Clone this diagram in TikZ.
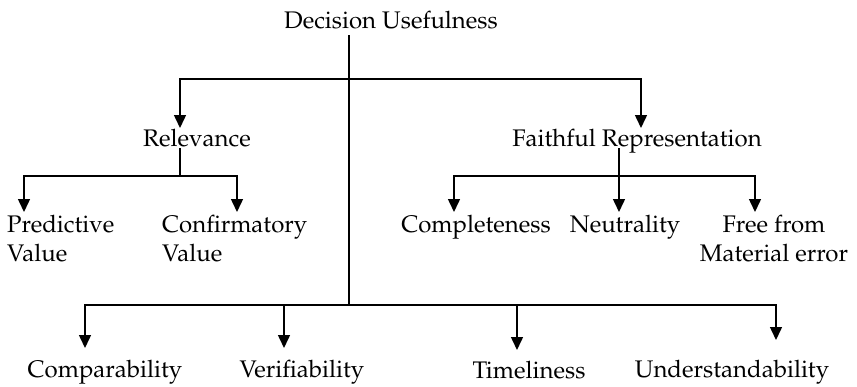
\documentclass[tikz,border=0pt]{standalone}
\usepackage[T1]{fontenc}
\usepackage{mathpazo}
\usetikzlibrary{arrows.meta}

\begin{document}
\begin{tikzpicture}[x=1pt,y=-1pt,
    lbl/.style={font=\fontsize{24}{29}\selectfont, inner sep=0pt, anchor=base},
    ln/.style={line width=1.5pt},
    arr/.style={line width=1.5pt, -{Triangle[width=12pt,length=13pt]}}]

    \useasboundingbox (0,0) rectangle (857,386);

    % top level
    \node[lbl] (du) at (391,28) {Decision Usefulness};

    \coordinate (topfork) at (349,79);
    \coordinate (botfork) at (349,305);

    \draw[ln] ([xshift=-42pt,yshift=-7pt]du.base) -- (botfork);


    % relevance (base = last line)
    \node[lbl] (rel) at (197,146) {Relevance};

    \node[lbl, anchor=base west, align=left] (pv) at (7,261) {Predictive\\Value};

    \node[lbl, anchor=base west, align=left] (cv) at (162,261) {Confirmatory\\Value};

    \draw[arr] (topfork) -| ([xshift=-17pt,yshift=18pt]rel.base);

    \coordinate (relfork) at (180,176);

    \draw[ln] ([xshift=-17pt,yshift=-2pt]rel.base) -- (relfork);

    \draw[arr] (relfork) -| ([xshift=17pt,yshift=49pt]pv.base west);

    \draw[arr] (relfork) -| ([xshift=75pt,yshift=49pt]cv.base west);


    % faithful representation
    \node[lbl] (fr) at (637,146) {Faithful Representation};

    \node[lbl] (cmp) at (476,232) {Completeness};

    \node[lbl] (neu) at (625,232) {Neutrality};

    \node[lbl, align=center] (ffe) at (774,261) {Free from\\Material error};

    \draw[arr] (topfork) -| ([xshift=4pt,yshift=18pt]fr.base);

    \coordinate (frfork) at (619,176);

    \draw[ln] ([xshift=-18pt,yshift=-2pt]fr.base) -- (frfork);

    \draw[arr] (frfork) -| ([xshift=-22pt,yshift=20pt]cmp.base);

    \draw[arr] (frfork) -| ([xshift=-6pt,yshift=20pt]neu.base);

    \draw[arr] (frfork) -| ([xshift=-19pt,yshift=49pt]ffe.base);


    % enhancing characteristics
    \node[lbl] (com) at (105,377) {Comparability};

    \node[lbl] (ver) at (302,377) {Verifiability};

    \node[lbl] (tim) at (529,378) {Timeliness};

    \node[lbl] (und) at (732,377) {Understandability};

    \draw[arr] (botfork) -| ([xshift=-20pt,yshift=29pt]com.base);

    \draw[arr] (botfork) -| ([xshift=-18pt,yshift=29pt]ver.base);

    \draw[arr] (botfork) -| ([xshift=-12pt,yshift=28pt]tim.base);

    \draw[arr] (botfork) -| ([xshift=44pt,yshift=37pt]und.base);

\end{tikzpicture}
\end{document}
